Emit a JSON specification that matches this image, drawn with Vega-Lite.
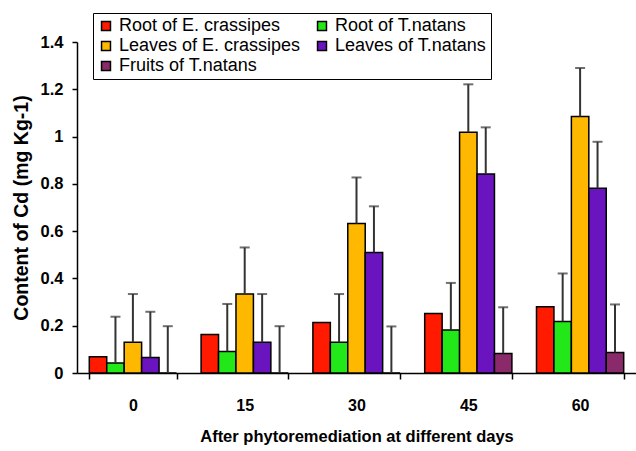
{
  "$schema": "https://vega.github.io/schema/vega-lite/v6.json",
  "width": 559,
  "height": 331,
  "autosize": "none",
  "padding": {"left": 77, "top": 42, "right": 0, "bottom": 78},
  "background": "white",
  "config": {
    "view": {"stroke": null},
    "font": "Liberation Sans"
  },
  "data": {
    "values": [
      {"day": "0", "series": "Root of E. crassipes", "value": 0.069, "err": null},
      {"day": "0", "series": "Root of T.natans", "value": 0.042, "err": 0.238},
      {"day": "0", "series": "Leaves of E. crassipes", "value": 0.13, "err": 0.334},
      {"day": "0", "series": "Leaves of T.natans", "value": 0.066, "err": 0.259},
      {"day": "0", "series": "Fruits of T.natans", "value": 0, "err": 0.198},
      {"day": "15", "series": "Root of E. crassipes", "value": 0.163, "err": null},
      {"day": "15", "series": "Root of T.natans", "value": 0.091, "err": 0.292},
      {"day": "15", "series": "Leaves of E. crassipes", "value": 0.334, "err": 0.531},
      {"day": "15", "series": "Leaves of T.natans", "value": 0.13, "err": 0.334},
      {"day": "15", "series": "Fruits of T.natans", "value": 0, "err": 0.198},
      {"day": "30", "series": "Root of E. crassipes", "value": 0.214, "err": null},
      {"day": "30", "series": "Root of T.natans", "value": 0.13, "err": 0.334},
      {"day": "30", "series": "Leaves of E. crassipes", "value": 0.632, "err": 0.827},
      {"day": "30", "series": "Leaves of T.natans", "value": 0.51, "err": 0.705},
      {"day": "30", "series": "Fruits of T.natans", "value": 0, "err": 0.197},
      {"day": "45", "series": "Root of E. crassipes", "value": 0.252, "err": null},
      {"day": "45", "series": "Root of T.natans", "value": 0.182, "err": 0.381},
      {"day": "45", "series": "Leaves of E. crassipes", "value": 1.018, "err": 1.221},
      {"day": "45", "series": "Leaves of T.natans", "value": 0.842, "err": 1.039},
      {"day": "45", "series": "Fruits of T.natans", "value": 0.083, "err": 0.278},
      {"day": "60", "series": "Root of E. crassipes", "value": 0.28, "err": null},
      {"day": "60", "series": "Root of T.natans", "value": 0.218, "err": 0.421},
      {"day": "60", "series": "Leaves of E. crassipes", "value": 1.085, "err": 1.29},
      {"day": "60", "series": "Leaves of T.natans", "value": 0.781, "err": 0.978},
      {"day": "60", "series": "Fruits of T.natans", "value": 0.087, "err": 0.29}
    ]
  },
  "encoding": {
    "x": {
      "field": "day", "type": "ordinal", "sort": ["0", "15", "30", "45", "60"],
      "scale": {"paddingInner": 0.22, "paddingOuter": 0.11},
      "axis": {
        "title": "After phytoremediation at different days",
        "titleFontSize": 16.5, "titleFontWeight": "bold", "titleColor": "black", "titlePadding": 15,
        "labelFontSize": 16, "labelFontWeight": "bold", "labelColor": "black", "labelAngle": 0, "labelPadding": 18,
        "domainColor": "black", "domainWidth": 1.5, "tickColor": "black", "tickBand": "extent", "tickSize": 6, "tickWidth": 1.5,
        "grid": false
      }
    },
    "xOffset": {
      "field": "series", "type": "nominal",
      "sort": ["Root of E. crassipes", "Root of T.natans", "Leaves of E. crassipes", "Leaves of T.natans", "Fruits of T.natans"],
      "scale": {"paddingInner": 0, "paddingOuter": 0}
    }
  },
  "layer": [
    {
      "mark": {"type": "bar", "stroke": "black", "strokeWidth": 1.5},
      "encoding": {
        "y": {
          "field": "value", "type": "quantitative",
          "scale": {"domain": [0, 1.4], "nice": false},
          "axis": {
            "title": "Content of Cd (mg Kg-1)", "titleFontSize": 19.5, "titleFontWeight": "bold", "titleColor": "black", "titlePadding": 9,
            "values": [0, 0.2, 0.4, 0.6, 0.8, 1, 1.2, 1.4],
            "labelFontSize": 16.5, "labelFontWeight": "bold", "labelColor": "black", "labelPadding": 9,
            "labelExpr": "datum.value == 0 ? '0' : datum.value == 1 ? '1' : format(datum.value, '.1f')",
            "domainColor": "black", "domainWidth": 1.5, "tickColor": "black", "tickSize": 5, "tickWidth": 1.5,
            "grid": false
          }
        },
        "color": {
          "field": "series", "type": "nominal",
          "sort": ["Root of E. crassipes", "Root of T.natans", "Leaves of E. crassipes", "Leaves of T.natans", "Fruits of T.natans"],
          "scale": {"range": ["#ff1a00", "#22e81a", "#ffb800", "#6a14c0", "#8a2a6a"]},
          "legend": {
            "title": null, "orient": "none", "legendX": 16, "legendY": -29,
            "direction": "horizontal", "gridAlign": "all",
            "columns": 2, "columnPadding": 12, "rowPadding": 2,
            "labelFontSize": 18, "labelColor": "black", "labelLimit": 300, "labelOffset": 4,
            "symbolType": "square", "symbolSize": 80, "symbolStrokeColor": "black", "symbolStrokeWidth": 1.5,
            "strokeColor": "black", "padding": 4, "fillColor": "white"
          }
        }
      }
    },
    {
      "transform": [{"filter": "datum.err != null"}],
      "mark": {"type": "rule", "color": "#333333", "strokeWidth": 2},
      "encoding": {
        "y": {"field": "value", "type": "quantitative"},
        "y2": {"field": "err"}
      }
    },
    {
      "transform": [{"filter": "datum.err != null"}],
      "mark": {"type": "tick", "color": "#333333", "thickness": 2, "size": 10},
      "encoding": {
        "y": {"field": "err", "type": "quantitative"}
      }
    }
  ]
}
